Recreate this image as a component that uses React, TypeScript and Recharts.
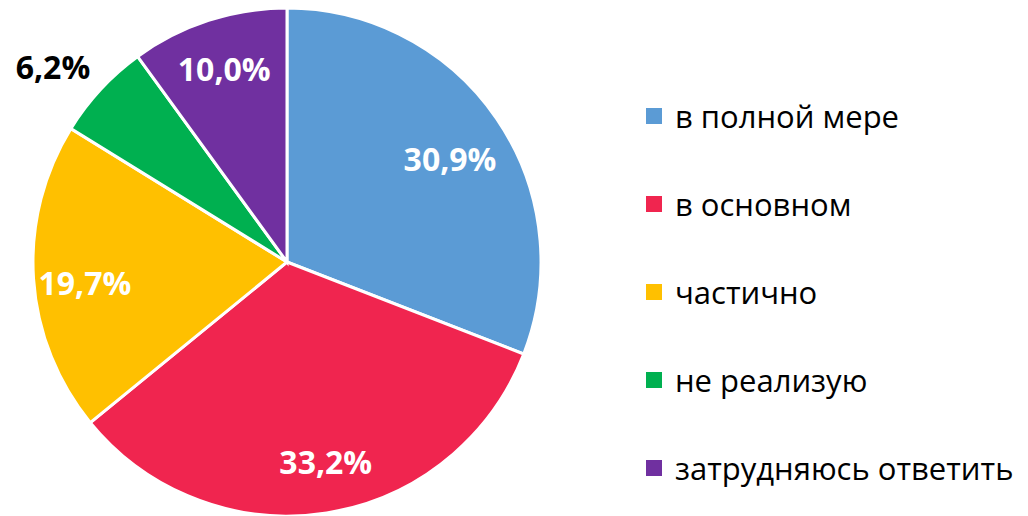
import { PieChart, Pie, Cell, Legend } from 'recharts'

const categories = ['в полной мере', 'в основном', 'частично', 'не реализую', 'затрудняюсь ответить']
const values = [30.9, 33.2, 19.7, 6.2, 10.0]
const colors = ['#5B9BD5', '#F0254F', '#FFC000', '#00B050', '#7030A0']

const data = categories.map((name, i) => ({ name, value: values[i] }))

const RAD = Math.PI / 180
const FONT = '"Open Sans", sans-serif'
const CX = 287
const CY = 262
const R = 254
const total = values.reduce((s, v) => s + v, 0)

// clockwise angle from 12 o'clock to the middle of each slice
const midDeg = values.map((v, i) => {
  const before = values.slice(0, i).reduce((s, x) => s + x, 0)
  return ((before + v / 2) / total) * 360
})

const renderLabel = (props: any) => {
  const { index } = props
  const value = values[index]
  const text = value.toFixed(1).replace('.', ',') + '%'
  const small = value < 8
  // small slice gets its label outside the pie
  const a = (small ? midDeg[index] - 3 : midDeg[index] + (index === 0 ? 2 : index === 4 ? 0 : -2)) * RAD
  const r = R * (small ? 1.2 : index === 0 ? 0.76 : 0.8)
  return (
    <text
      key={`lbl-${index}`}
      x={CX + r * Math.sin(a)}
      y={CY - r * Math.cos(a)}
      fill={small ? '#000' : '#fff'}
      fontFamily={FONT}
      fontWeight={700}
      fontSize={32}
      textAnchor="middle"
      dominantBaseline="central"
    >
      {text}
    </text>
  )
}

const renderLegend = () => (
  <div style={{ fontFamily: FONT }}>
    {data.map((d, i) => (
      <div key={d.name} style={{ display: 'flex', alignItems: 'center', height: 88 }}>
        <span style={{ width: 16, height: 16, background: colors[i], display: 'inline-block', marginRight: 13 }} />
        <span style={{ fontSize: 31, color: '#000', whiteSpace: 'nowrap' }}>{d.name}</span>
      </div>
    ))}
  </div>
)

export default function App() {
  return (
    <div style={{ position: 'fixed', left: 0, top: 0, background: '#fff' }}>
      <PieChart width={1028} height={516} margin={{ top: 0, right: 0, bottom: 0, left: 0 }}>
        <Pie
          data={data}
          dataKey="value"
          nameKey="name"
          cx={CX}
          cy={CY}
          outerRadius={R}
          startAngle={90}
          endAngle={-270}
          stroke="#fff"
          strokeWidth={3}
          label={renderLabel}
          labelLine={false}
          isAnimationActive={false}
        >
          {data.map((d, i) => (
            <Cell key={d.name} fill={colors[i]} />
          ))}
        </Pie>
        <Legend content={renderLegend} wrapperStyle={{ left: 646, top: 72, width: 382 }} />
      </PieChart>
    </div>
  )
}
